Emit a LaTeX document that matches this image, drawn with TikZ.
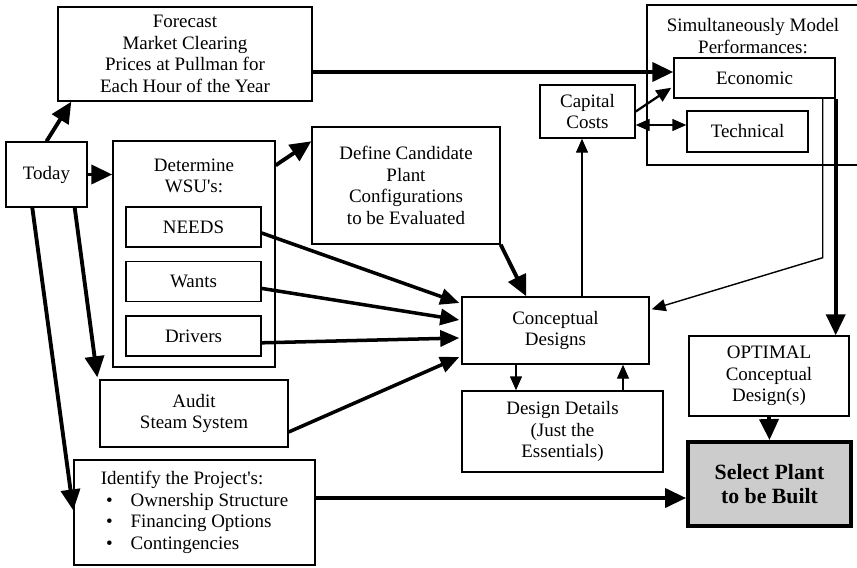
\documentclass[tikz,border=0pt]{standalone}
\usepackage{fontspec}
\setmainfont{Liberation Serif}
\usetikzlibrary{arrows.meta,positioning}

\begin{document}
\begin{tikzpicture}[font=\fontsize{10.8}{12.3}\selectfont,
  box/.style={draw, line width=0.8pt, align=center, inner sep=2pt, fill=white},
  big/.style={line width=2.2pt, -{Triangle[length=4.2mm,width=3.8mm]}},
  thick arr/.style={line width=2pt, -{Triangle[length=3.8mm,width=3.2mm]}},
  mid/.style={line width=1.3pt, -{Triangle[length=3mm,width=2.6mm]}},
  thin/.style={line width=0.8pt, -{Triangle[length=2.8mm,width=2.4mm]}},
]
\useasboundingbox (0,0) rectangle (17.14,-11.34);
% ---- left column ----
\node[box, minimum width=5.08cm, minimum height=1.88cm] (forecast) at (3.70,-1.08)
  {Forecast\\Market Clearing\\Prices at Pullman for\\Each Hour of the Year};
\node[box, minimum width=1.62cm, minimum height=1.30cm] (today) at (0.93,-3.49) {Today};
\node[box, minimum width=3.24cm, minimum height=4.52cm] (wsu) at (3.88,-5.08) {};
\node[align=center] (wsutitle) at (3.88,-3.52) {Determine\\WSU\textquotesingle s:};
\node[box, minimum width=2.70cm, minimum height=0.80cm] (needs) at (3.87,-4.54) {NEEDS};
\node[box, minimum width=2.70cm, minimum height=0.80cm, below=0.26cm of needs] (wants) {Wants};
\node[box, minimum width=2.70cm, minimum height=0.80cm, below=0.26cm of wants] (drivers) {Drivers};
\node[box, minimum width=3.76cm, minimum height=1.34cm] (audit) at (3.88,-8.27) {Audit\\Steam System};
\node[box, minimum width=4.82cm, minimum height=2.10cm, align=left] (identify) at (3.89,-10.25)
  {Identify the Project\textquotesingle s:\\
   \hspace*{3pt}\makebox[14pt][l]{\textbullet}Ownership Structure\\
   \hspace*{3pt}\makebox[14pt][l]{\textbullet}Financing Options\\
   \hspace*{3pt}\makebox[14pt][l]{\textbullet}Contingencies};
% ---- middle ----
\node[box, minimum width=3.76cm, minimum height=2.34cm] (define) at (8.12,-3.71)
  {Define Candidate\\Plant\\Configurations\\to be Evaluated};
\node[box, minimum width=1.90cm, minimum height=1.06cm] (capital) at (11.75,-2.23) {Capital\\Costs};
\node[box, minimum width=3.74cm, minimum height=1.34cm] (concept) at (11.11,-6.61) {Conceptual\\Designs};
\node[box, minimum width=4.02cm, minimum height=1.62cm] (details) at (11.25,-8.63)
  {Design Details\\(Just the\\Essentials)};
% ---- right ----
\node[box, minimum width=4.66cm, minimum height=3.20cm] (simbox) at (15.27,-1.70) {};
\node[align=center] (simtitle) at (15.06,-0.72) {Simultaneously Model\\Performances:};
\node[box, minimum width=3.22cm, minimum height=0.80cm] (economic) at (15.09,-1.56) {Economic};
\node[box, minimum width=2.42cm, minimum height=0.82cm] (technical) at (14.95,-2.63) {Technical};
\node[box, minimum width=3.20cm, minimum height=1.60cm] (optimal) at (15.38,-7.52)
  {OPTIMAL\\Conceptual\\Design(s)};
\node[box, line width=2.2pt, fill=black!20, minimum width=3.26cm, minimum height=1.68cm,
  font=\fontsize{12.4}{14}\selectfont\bfseries] (select) at (15.39,-9.68) {Select Plant\\to be Built};
% ---- connectors ----
\draw[big] (today.north) -- ([xshift=0.28cm]forecast.south west);
\draw[big] (today.east) -- (today.east -| wsu.west);
\draw[big] ([yshift=-0.5cm]wsu.north east) -- ([yshift=-0.3cm]define.north west);
\draw[big] ([yshift=-0.36cm]forecast.east) -- ([yshift=0.12cm]economic.west);
\draw[mid] (capital.east) -- ([xshift=-0.04cm,yshift=0.22cm]economic.south west);
\draw[thin, {Triangle[length=2.8mm,width=2.4mm]}-{Triangle[length=2.8mm,width=2.4mm]}]
  ([yshift=-0.27cm]capital.east) -- ([yshift=-0.27cm]capital.east -| technical.west);
\draw[thin] ([xshift=0.53cm]concept.north) -- ([xshift=0.53cm]concept.north |- capital.south);
\draw[thin] ([xshift=-0.26cm]economic.south east) -- ++(0,-3.18) -- ([xshift=0.04cm,yshift=-0.26cm]concept.north east);
\draw[big] (economic.south east) -- (economic.south east |- optimal.north);
\draw[big] (define.south east) -- ([xshift=1.3cm]concept.north west);
\draw[thick arr] ([yshift=-0.12cm]needs.east) -- ([xshift=-0.04cm,yshift=0.55cm]concept.west);
\draw[thick arr] ([yshift=-0.14cm]wants.east) -- ([xshift=-0.04cm,yshift=0.21cm]concept.west);
\draw[thick arr] ([yshift=-0.14cm]drivers.east) -- ([xshift=-0.04cm,yshift=-0.15cm]concept.west);
\draw[thick arr] ([yshift=-0.37cm]audit.east) -- ([xshift=-0.04cm,yshift=-0.53cm]concept.west);
\draw[big] ([xshift=-0.26cm]today.south east) -- ([xshift=-0.04cm,yshift=0.04cm]audit.north west);
\draw[big] ([xshift=0.54cm]today.south west) -- ([yshift=0.04cm]identify.west);
\draw[big] ([yshift=0.29cm]identify.east) -- ([yshift=0.29cm]identify.east -| select.west);
\draw[thin] ([xshift=-0.79cm]concept.south) -- ([xshift=-0.79cm]concept.south |- details.north);
\draw[thin] ([xshift=1.21cm]details.north) -- ([xshift=1.21cm]details.north |- concept.south);
\draw[big] (optimal.south) -- (select.north);
\end{tikzpicture}
\end{document}
